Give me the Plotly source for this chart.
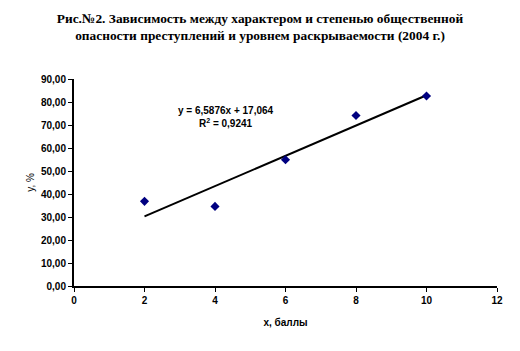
import numpy as np
import plotly.graph_objects as go

x_vals = [2, 4, 6, 8, 10]
y_vals = [36.8, 34.6, 54.9, 74.1, 82.6]
x_ticks = [0, 2, 4, 6, 8, 10, 12]
y_ticks = [0, 10, 20, 30, 40, 50, 60, 70, 80, 90]
x_tick_text = [f"<b>{v}</b>" for v in x_ticks]
y_tick_text = ["<b>" + f"{v:.2f}".replace(".", ",") + "</b>" for v in y_ticks]

slope, intercept = 6.5876, 17.064
x_line = [min(x_vals), max(x_vals)]
y_line = [slope * v + intercept for v in x_line]

fig = go.Figure()
fig.add_trace(go.Scatter(x=x_line, y=y_line, mode="lines",
                         line=dict(color="black", width=2), showlegend=False, hoverinfo="skip"))
fig.add_trace(go.Scatter(x=x_vals, y=y_vals, mode="markers",
                         marker=dict(symbol="diamond", size=7, color="#000080"),
                         showlegend=False))

fig.add_annotation(x=4.3, y=73.5, xref="x", yref="y",
                   text="<b>y = 6,5876x + 17,064<br>R<sup>2</sup> = 0,9241</b>",
                   showarrow=False, align="center",
                   font=dict(family="Liberation Sans", size=10, color="black"))

fig.update_layout(
    width=520, height=351,
    margin=dict(l=74, r=23, t=79, b=65),
    paper_bgcolor="white", plot_bgcolor="white",
    title=dict(text="<b>Рис.№2. Зависимость между характером и степенью общественной<br>опасности преступлений и уровнем раскрываемости (2004 г.)</b>",
               x=0.5, xanchor="center", y=0.935, yanchor="top",
               font=dict(family="Liberation Serif", size=13.4, color="black")),
    font=dict(family="Liberation Sans", size=10, color="black"),
)
fig.update_xaxes(range=[0, 12], tickvals=x_ticks, ticktext=x_tick_text, showgrid=False, zeroline=False,
                 showline=True, linecolor="black", linewidth=2,
                 ticks="outside", ticklen=4, tickwidth=1, tickcolor="black",
                 tickfont=dict(family="Liberation Sans", size=10, color="black"),
                 title=dict(text="<b>x, баллы</b>", font=dict(size=10), standoff=14))
fig.update_yaxes(range=[0, 90], tickvals=y_ticks, ticktext=y_tick_text, showgrid=False, zeroline=False,
                 showline=True, linecolor="black", linewidth=2,
                 ticks="outside", ticklen=4, tickwidth=1, tickcolor="black",
                 tickfont=dict(family="Liberation Sans", size=10, color="black"),
                 title=dict(text="y, %", font=dict(size=10), standoff=4))

fig.write_html("out.html")
